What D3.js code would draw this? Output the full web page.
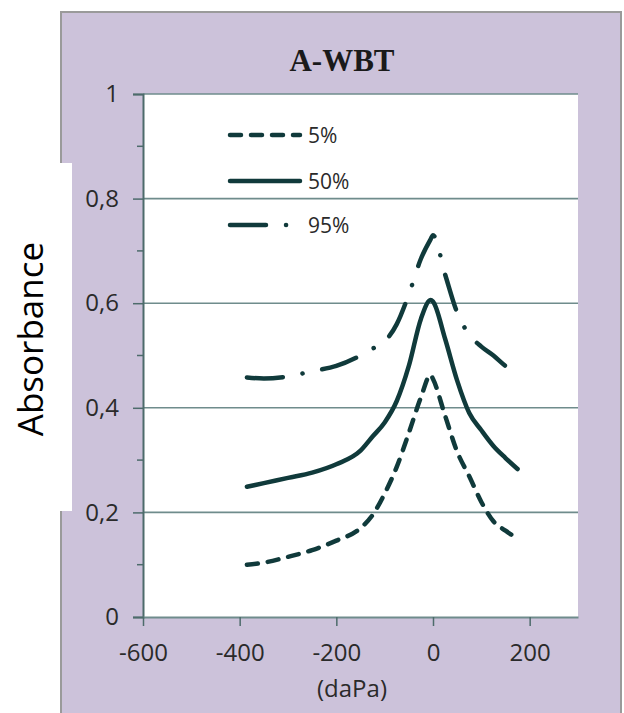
<!DOCTYPE html>
<html>
<head>
<meta charset="utf-8">
<script src="https://cdn.jsdelivr.net/npm/d3@7"></script>
<style>
  body { margin: 0; background: #fff; }
  svg { display: block; }
</style>
</head>
<body>
<div id="chart"></div>
<script>
// data
const pressure = [-385, -350, -300, -250, -200, -150, -125, -100, -75, -50, -25, -5, 0, 25, 50, 75, 100, 125, 150, 175];
const p5  = [0.100, 0.104, 0.115, 0.128, 0.146, 0.170, 0.195, 0.236, 0.287, 0.352, 0.420, 0.463, 0.455, 0.385, 0.316, 0.269, 0.220, 0.183, 0.165, 0.150];
const p50 = [0.249, 0.256, 0.266, 0.276, 0.292, 0.318, 0.345, 0.372, 0.413, 0.480, 0.570, 0.606, 0.603, 0.532, 0.452, 0.390, 0.357, 0.327, 0.304, 0.283];
const p95 = [0.458, 0.456, 0.460, 0.470, 0.480, 0.500, 0.513, 0.527, 0.560, 0.617, 0.685, 0.722, 0.730, 0.655, 0.582, 0.540, 0.517, 0.500, 0.480, 0.465];
const seriesNames = ["5%", "50%", "95%"];
const xTicks = [-600, -400, -200, 0, 200];
const yTicks = [0, 0.2, 0.4, 0.6, 0.8, 1];

const W = 624, H = 713;
const lineColor = "#103a3b";
const dashes = ["11,10", null, "36,20,0.1,20"];

const svg = d3.select("#chart").append("svg")
  .attr("width", W).attr("height", H);

// lavender panel
svg.append("rect")
  .attr("x", 61).attr("y", 12)
  .attr("width", 560).attr("height", H)
  .attr("fill", "#ccc2da")
  .attr("stroke", "#9a9a9a").attr("stroke-width", 2);

const x = d3.scaleLinear().domain([-600, 300]).range([143, 578]);
const y = d3.scaleLinear().domain([0, 1]).range([617, 94]);

// plot area
svg.append("rect")
  .attr("x", x(-600)).attr("y", y(1))
  .attr("width", x(300) - x(-600)).attr("height", y(0) - y(1))
  .attr("fill", "#fff");

// gridlines
svg.append("g").selectAll("line")
  .data(yTicks.filter(d => d > 0))
  .join("line")
  .attr("x1", x(-600)).attr("x2", x(300))
  .attr("y1", d => y(d)).attr("y2", d => y(d))
  .attr("stroke", "#6f8c8c").attr("stroke-width", 1.6);

// y axis
const yAxis = svg.append("g")
  .attr("transform", `translate(${x(-600)},0)`)
  .call(d3.axisLeft(y).tickValues(yTicks).tickSize(10).tickPadding(14)
    .tickFormat(d => d3.format(".1~f")(d).replace(".", ",")));
yAxis.selectAll(".tick line").attr("stroke", "#4d6b6b").attr("stroke-width", 1.5);
yAxis.select(".domain").attr("stroke", "#4d6b6b").attr("stroke-width", 2);

// minor y ticks
svg.append("g").selectAll("line")
  .data(d3.range(0.1, 1, 0.2))
  .join("line")
  .attr("x1", x(-600) - 6).attr("x2", x(-600))
  .attr("y1", d => y(d)).attr("y2", d => y(d))
  .attr("stroke", "#4d6b6b").attr("stroke-width", 1.5);

// x axis
const xAxis = svg.append("g")
  .attr("transform", `translate(0,${y(0)})`)
  .call(d3.axisBottom(x).tickValues(xTicks).tickSize(9).tickPadding(18).tickSizeOuter(0)
    .tickFormat(d => String(d)));
xAxis.selectAll(".tick line").attr("stroke", "#4d6b6b").attr("stroke-width", 1.5);
xAxis.select(".domain").attr("stroke", "#6f8c8c").attr("stroke-width", 2);

svg.selectAll(".tick text")
  .attr("font-family", "Open Sans, sans-serif")
  .attr("font-size", 24)
  .attr("fill", "#2a2a2a");

// curves
const line = d3.line()
  .x((d, i) => x(pressure[i]))
  .y(d => y(d))
  .curve(d3.curveMonotoneX);

[p5, p50, p95].forEach((vals, k) => {
  svg.append("path")
    .attr("d", line(vals))
    .attr("fill", "none")
    .attr("stroke", lineColor)
    .attr("stroke-width", 4.5)
    .attr("stroke-linecap", "round")
    .attr("stroke-linejoin", "round")
    .attr("stroke-dasharray", dashes[k]);
});

// legend
const legendY = [135, 181, 225];
const legend = svg.append("g");
seriesNames.forEach((name, k) => {
  legend.append("line")
    .attr("x1", 230).attr("x2", 300)
    .attr("y1", legendY[k]).attr("y2", legendY[k])
    .attr("stroke", lineColor).attr("stroke-width", 4.5)
    .attr("stroke-linecap", "round")
    .attr("stroke-dasharray", dashes[k]);
  legend.append("text")
    .attr("x", 308).attr("y", legendY[k] + 8)
    .attr("font-family", "Open Sans, sans-serif")
    .attr("font-size", 21)
    .attr("fill", "#2a2a2a")
    .text(name);
});

// title
svg.append("text")
  .attr("x", 342).attr("y", 71)
  .attr("text-anchor", "middle")
  .attr("font-family", "Liberation Serif, Times New Roman, serif")
  .attr("font-weight", "bold")
  .attr("font-size", 31)
  .attr("fill", "#1a1a1a")
  .text("A-WBT");

// x label
svg.append("text")
  .attr("x", 352).attr("y", 697)
  .attr("text-anchor", "middle")
  .attr("font-family", "Open Sans, sans-serif")
  .attr("font-size", 24)
  .attr("fill", "#2a2a2a")
  .text("(daPa)");

// white patch with y label
svg.append("rect")
  .attr("x", 0).attr("y", 163)
  .attr("width", 72).attr("height", 348)
  .attr("fill", "#fff");

svg.append("text")
  .attr("transform", "translate(43,339) rotate(-90)")
  .attr("text-anchor", "middle")
  .attr("font-family", "Open Sans, sans-serif")
  .attr("font-size", 35)
  .attr("fill", "#000")
  .text("Absorbance");
</script>
</body>
</html>
